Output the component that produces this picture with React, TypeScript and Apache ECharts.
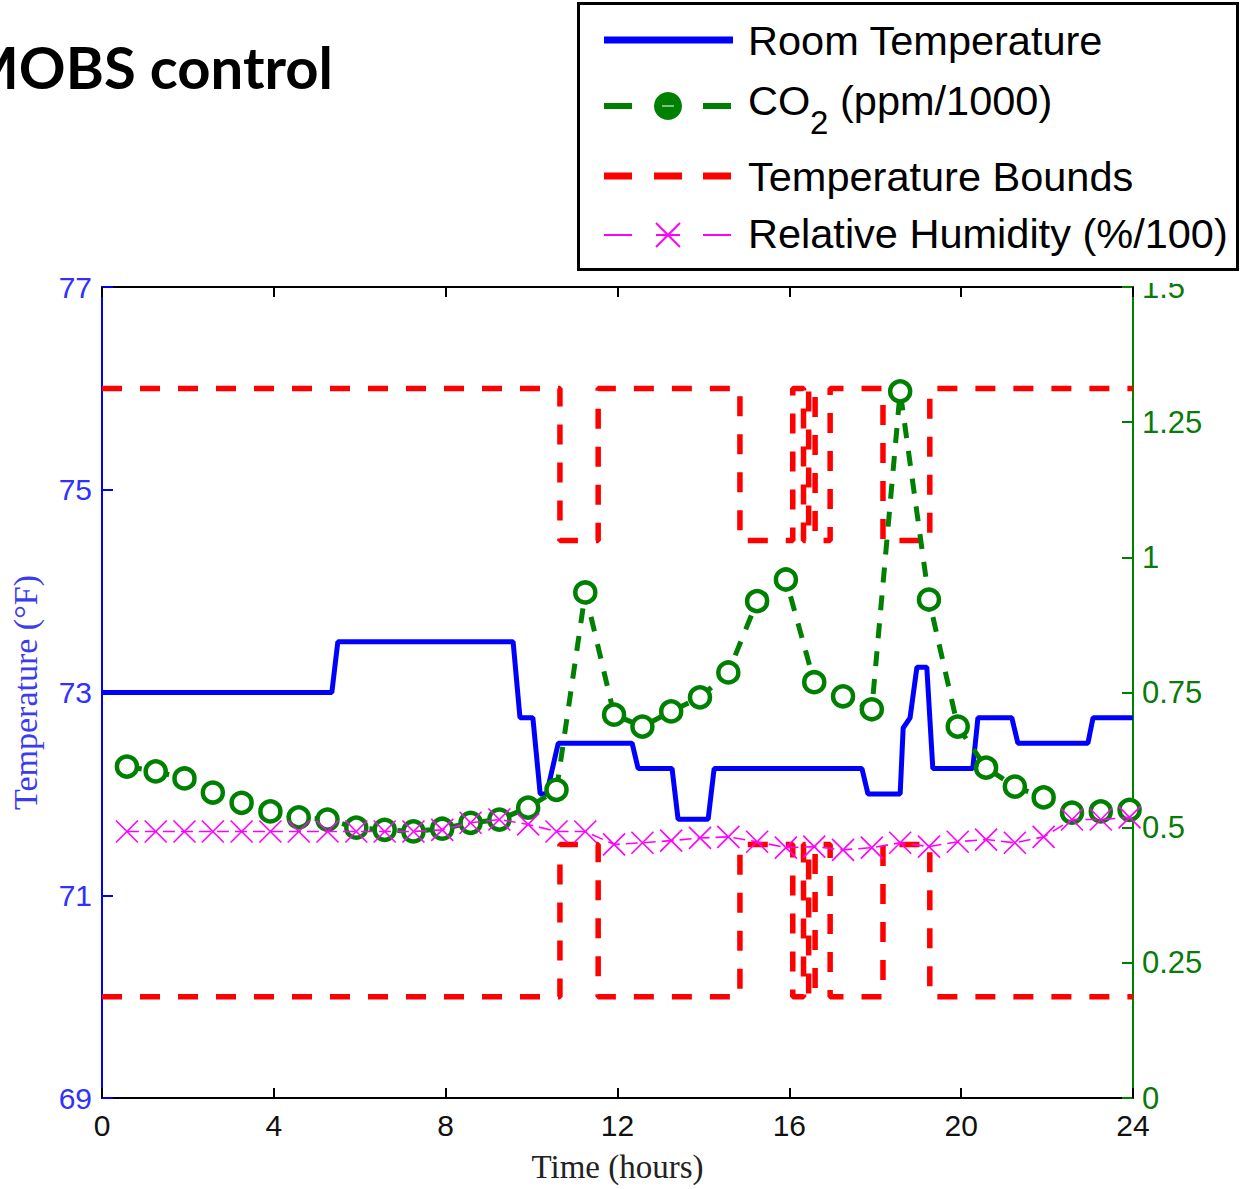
import React, { useEffect, useRef } from "react";
import * as echarts from "echarts";

// ---------- data ----------
const sampleHours = [0.58, 1.25, 1.92, 2.58, 3.25, 3.92, 4.58, 5.25, 5.92, 6.58, 7.25, 7.92, 8.58, 9.25, 9.92, 10.58, 11.25, 11.92, 12.58, 13.25, 13.92, 14.58, 15.25, 15.92, 16.58, 17.25, 17.92, 18.58, 19.25, 19.92, 20.58, 21.25, 21.92, 22.58, 23.25, 23.92];
const co2Values = [0.613, 0.604, 0.591, 0.565, 0.546, 0.53, 0.519, 0.515, 0.5, 0.496, 0.493, 0.498, 0.509, 0.515, 0.537, 0.57, 0.935, 0.709, 0.687, 0.715, 0.741, 0.787, 0.919, 0.959, 0.769, 0.743, 0.719, 1.307, 0.922, 0.687, 0.611, 0.576, 0.556, 0.528, 0.53, 0.533];
const humidityValues = [0.493, 0.493, 0.493, 0.493, 0.493, 0.493, 0.493, 0.493, 0.493, 0.493, 0.493, 0.496, 0.509, 0.515, 0.506, 0.493, 0.493, 0.469, 0.472, 0.476, 0.481, 0.483, 0.474, 0.463, 0.465, 0.459, 0.463, 0.472, 0.465, 0.474, 0.478, 0.472, 0.483, 0.515, 0.515, 0.519];

const tempHours = [0, 5.35, 5.49, 9.57, 9.73, 10.03, 10.2, 10.35, 10.62, 12.34, 12.48, 13.27, 13.41, 14.11, 14.25, 17.69, 17.83, 18.58, 18.65, 18.81, 18.97, 19.2, 19.34, 20.27, 20.39, 21.18, 21.32, 22.95, 23.07, 24];
const tempValues = [73, 73, 73.5, 73.5, 72.75, 72.75, 72, 72, 72.5, 72.5, 72.25, 72.25, 71.75, 71.75, 72.25, 72.25, 72, 72, 72.65, 72.75, 73.25, 73.25, 72.25, 72.25, 72.75, 72.75, 72.5, 72.5, 72.75, 72.75];

const boundHours = [0, 10.66, 10.66, 11.55, 11.55, 14.85, 14.85, 16.08, 16.08, 16.33, 16.33, 16.45, 16.45, 16.6, 16.6, 16.95, 16.95, 18.18, 18.18, 19.27, 19.27, 24];
const upperBound = [76, 76, 74.5, 74.5, 76, 76, 74.5, 74.5, 76, 76, 74.5, 74.5, 76, 76, 74.5, 74.5, 76, 76, 74.5, 74.5, 76, 76];
const lowerBound = [70, 70, 71.5, 71.5, 70, 70, 71.5, 71.5, 70, 70, 71.5, 71.5, 70, 70, 71.5, 71.5, 70, 70, 71.5, 71.5, 70, 70];

const tempTicks = [69, 71, 73, 75, 77];

const legendLabels = ["Room Temperature", "CO", "2", "(ppm/1000)", "Temperature Bounds", "Relative Humidity (%/100)"];
const titleText = "MOBS control";

const zip = (xs: number[], ys: number[]) => xs.map((x, i) => [x, ys[i]]);

const SANS = '"Liberation Sans", Arial, sans-serif';
const SERIF = '"Liberation Serif", "DejaVu Serif", serif';

export default function App() {
  const ref = useRef<HTMLDivElement>(null);
  useEffect(() => {
    if (!ref.current) return;
    const chart = echarts.init(ref.current, undefined, { renderer: "svg" });
    const legendFont = `41.5px ${SANS}`;
    const txt = (text: string, x: number, y: number, font: string, extra: any = {}) => ({
      type: "text",
      z: 100,
      style: { text, x, y, font, fill: "#000", textVerticalAlign: "middle", verticalAlign: "middle", ...extra },
    });
    const seg = (x1: number, x2: number, y: number, color: string, w: number) => ({
      type: "line",
      z: 100,
      shape: { x1, y1: y, x2, y2: y },
      style: { stroke: color, lineWidth: w },
    });
    chart.setOption({
      animation: false,
      backgroundColor: "#fff",
      grid: { left: 102, right: 107, top: 287, bottom: 91, containLabel: false },
      xAxis: [
        {
          type: "value",
          min: 0,
          max: 24,
          interval: 4,
          position: "bottom",
          axisLine: { show: true, onZero: false, lineStyle: { color: "#000", width: 2 } },
          axisTick: { show: true, inside: true, length: 10, lineStyle: { color: "#000", width: 2 } },
          axisLabel: { color: "#111", fontSize: 30, fontFamily: SANS, margin: 12 },
          splitLine: { show: false },
          name: "Time (hours)",
          nameLocation: "middle",
          nameGap: 52,
          nameTextStyle: { fontFamily: SERIF, fontSize: 33, color: "#222" },
        },
        {
          type: "value",
          min: 0,
          max: 24,
          interval: 4,
          position: "top",
          axisLine: { show: true, onZero: false, lineStyle: { color: "#000", width: 2 } },
          axisTick: { show: true, inside: true, length: 10, lineStyle: { color: "#000", width: 2 } },
          axisLabel: { show: false },
          splitLine: { show: false },
        },
      ],
      yAxis: [
        {
          type: "value",
          min: 69,
          max: 77,
          position: "left",
          axisLine: { show: true, onZero: false, lineStyle: { color: "#0000ff", width: 2 } },
          axisTick: { show: true, inside: true, length: 11, customValues: tempTicks, lineStyle: { color: "#0000ff", width: 2 } },
          axisLabel: { color: "#3030ff", fontSize: 30, fontFamily: SANS, margin: 10, customValues: tempTicks },
          splitLine: { show: false },
          name: "Temperature (°F)",
          nameLocation: "middle",
          nameRotate: 90,
          nameGap: 60,
          nameTextStyle: { fontFamily: SERIF, fontSize: 34, color: "#3b3bf0" },
        },
        {
          type: "value",
          min: 0,
          max: 1.5,
          interval: 0.25,
          position: "right",
          axisLine: { show: true, onZero: false, lineStyle: { color: "#008000", width: 2 } },
          axisTick: { show: true, inside: true, length: 11, lineStyle: { color: "#008000", width: 2 } },
          axisLabel: { color: "#0a7a0a", fontSize: 31, fontFamily: SANS, margin: 9 },
          splitLine: { show: false },
        },
      ],
      series: [
        {
          name: "Temperature Bounds",
          type: "line",
          xAxisIndex: 0,
          yAxisIndex: 0,
          data: zip(boundHours, upperBound),
          showSymbol: false,
          symbol: "none",
          lineStyle: { color: "#ff0000", width: 5.5, type: [20, 18] },
          z: 2,
        },
        {
          name: "Temperature Bounds (lower)",
          type: "line",
          xAxisIndex: 0,
          yAxisIndex: 0,
          data: zip(boundHours, lowerBound),
          showSymbol: false,
          symbol: "none",
          lineStyle: { color: "#ff0000", width: 5.5, type: [20, 18] },
          z: 2,
        },
        {
          name: "Room Temperature",
          type: "line",
          xAxisIndex: 0,
          yAxisIndex: 0,
          data: zip(tempHours, tempValues),
          showSymbol: false,
          symbol: "none",
          lineStyle: { color: "#0000ff", width: 5 },
          z: 3,
        },
        {
          name: "CO2 (ppm/1000)",
          type: "line",
          xAxisIndex: 0,
          yAxisIndex: 1,
          data: zip(sampleHours, co2Values),
          symbol: "circle",
          symbolSize: 20,
          showSymbol: true,
          itemStyle: { color: "#ffffff", borderColor: "#008000", borderWidth: 4.5 },
          lineStyle: { color: "#008000", width: 5, type: [15, 13] },
          z: 4,
        },
        {
          name: "Relative Humidity (%/100)",
          type: "line",
          xAxisIndex: 0,
          yAxisIndex: 1,
          data: zip(sampleHours, humidityValues),
          symbol: "path://M0,0L20,20M20,0L0,20",
          symbolSize: 22,
          showSymbol: true,
          itemStyle: { color: "#ff00ff", borderColor: "#ff00ff", borderWidth: 1.6 },
          lineStyle: { color: "#ff00ff", width: 1.6, type: [12, 6] },
          z: 5,
        },
      ],
      graphic: [
        {
          type: "text",
          z: 100,
          style: {
            text: titleText,
            x: 333,
            y: 66,
            font: `bold 58px Lato, "Open Sans", sans-serif`,
            fill: "#000",
            textAlign: "right",
            align: "right",
            textVerticalAlign: "middle",
            verticalAlign: "middle",
          },
        },
        {
          type: "rect",
          z: 90,
          shape: { x: 1136, y: 271, width: 104, height: 12 },
          style: { fill: "#fff" },
        },
        {
          type: "rect",
          z: 99,
          shape: { x: 578.5, y: 3.5, width: 659, height: 266 },
          style: { fill: "#fff", stroke: "#000", lineWidth: 3 },
        },
        seg(604, 733, 40, "#0000ff", 7),
        seg(604, 632, 106, "#008000", 6),
        seg(703, 731, 106, "#008000", 6),
        { type: "circle", z: 100, shape: { cx: 668, cy: 106, r: 14 }, style: { fill: "#008000" } },
        seg(662, 674, 106, "#7fbf7f", 2),
        seg(604, 632, 176, "#ff0000", 7),
        seg(654, 682, 176, "#ff0000", 7),
        seg(703, 731, 176, "#ff0000", 7),
        seg(604, 632, 235, "#ff00ff", 2),
        seg(703, 731, 235, "#ff00ff", 2),
        { type: "line", z: 100, shape: { x1: 656, y1: 223, x2: 680, y2: 247 }, style: { stroke: "#ff00ff", lineWidth: 2 } },
        { type: "line", z: 100, shape: { x1: 680, y1: 223, x2: 656, y2: 247 }, style: { stroke: "#ff00ff", lineWidth: 2 } },
        seg(656, 680, 235, "#ff00ff", 2),
        txt(legendLabels[0], 748, 40, legendFont),
        txt(legendLabels[1], 748, 100, legendFont),
        txt(legendLabels[2], 810, 122, `33px ${SANS}`),
        txt(legendLabels[3], 840, 100, legendFont),
        txt(legendLabels[4], 748, 176, legendFont),
        txt(legendLabels[5], 748, 233, legendFont),
      ],
    });
    return () => chart.dispose();
  }, []);
  return (
    <div
      ref={ref}
      style={{ position: "absolute", left: 0, top: 0, width: 1240, height: 1189, background: "#fff" }}
    />
  );
}
